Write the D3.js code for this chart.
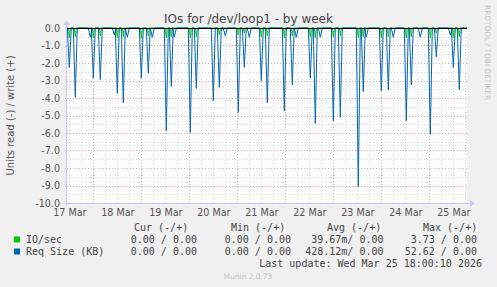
<!DOCTYPE html>
<html>
<head>
<meta charset="utf-8">
<script src="https://cdn.jsdelivr.net/npm/d3@7"></script>
<style>
  body { margin: 0; background: #f0f0f0; }
  svg { display: block; }
</style>
</head>
<body>
<div id="wrapper"></div>
<script>
// data (read side, plotted negative)
const spikeTimes = [
  '2026-03-17 12:00', '2026-03-17 15:00', '2026-03-17 22:30', '2026-03-18 00:00',
  '2026-03-18 03:30', '2026-03-18 10:30', '2026-03-18 12:00', '2026-03-18 15:00',
  '2026-03-18 17:00', '2026-03-19 00:00', '2026-03-19 03:30', '2026-03-19 05:30',
  '2026-03-19 12:30', '2026-03-19 15:00', '2026-03-19 16:30', '2026-03-20 00:30',
  '2026-03-20 03:30', '2026-03-20 12:00', '2026-03-20 15:00', '2026-03-20 18:00',
  '2026-03-21 00:30', '2026-03-21 03:30', '2026-03-21 06:00', '2026-03-21 12:00',
  '2026-03-21 15:00', '2026-03-21 23:30', '2026-03-22 03:30', '2026-03-22 05:30',
  '2026-03-22 12:30', '2026-03-22 15:00', '2026-03-22 17:30', '2026-03-23 00:00',
  '2026-03-23 03:30', '2026-03-23 12:30', '2026-03-23 15:00', '2026-03-23 16:30',
  '2026-03-24 00:00', '2026-03-24 03:30', '2026-03-24 06:00', '2026-03-24 12:30',
  '2026-03-24 15:00', '2026-03-24 19:30', '2026-03-25 00:30', '2026-03-25 03:30',
  '2026-03-25 10:30', '2026-03-25 12:00', '2026-03-25 15:00',
]
const reqSizeRead = [
  -2.25, -3.96, -0.53, -2.87, -2.95, -0.40, -3.73, -4.27, -0.53, -2.87, -2.59, -0.53,
  -5.87, -3.33, -0.53, -5.96, -3.45, -4.15, -3.39, -0.45, -4.82, -2.25, -0.53, -3.01,
  -4.27, -4.72, -3.24, -0.53, -2.87, -5.45, -0.53, -5.30, -5.10, -9.07, -3.64, -0.53,
  -3.58, -3.54, -0.53, -5.30, -3.24, -0.53, -6.08, -1.64, -0.40, -2.25, -3.52,
]
const ioSecRead = [
  -0.55, -0.50, 0, -0.55, -0.45, 0, -0.55, -0.50, 0, -0.60, -0.45, 0,
  -0.55, -0.50, 0, -0.55, -0.50, 0.0, -0.40, 0, -0.40, -0.30, 0, -0.50,
  -0.45, -0.55, -0.45, 0, -0.50, -0.55, 0, -0.50, -0.45, -0.55, -0.50, 0,
  -0.55, -0.50, 0, -0.55, -0.50, 0, -0.55, -0.30, 0, -0.55, -0.50,
]
const timeStart = '2026-03-17 10:51'
const timeEnd = '2026-03-25 18:51'

const yTicks = [0, -1, -2, -3, -4, -5, -6, -7, -8, -9, -10]

const legendNames = ['IO/sec', 'Req Size (KB)']
const legendColors = ['#00cc00', '#0066b3']
const curValues = ['0.00 / 0.00', '0.00 / 0.00']
const minValues = ['0.00 / 0.00', '0.00 / 0.00']
const avgValues = ['39.67m/ 0.00', '428.12m/ 0.00']
const maxValues = ['3.73 / 0.00', '52.62 / 0.00']
const lastUpdate = 'Last update: Wed Mar 25 18:00:10 2026'

// dimensions
const dimensions = {
  width: 497,
  height: 287,
  margin: { top: 28, right: 30, bottom: 84, left: 67 },
}
dimensions.boundedWidth = dimensions.width - dimensions.margin.left - dimensions.margin.right
dimensions.boundedHeight = dimensions.height - dimensions.margin.top - dimensions.margin.bottom

const parseTime = d3.utcParse('%Y-%m-%d %H:%M')
const minute = 60 * 1000

const wrapper = d3.select('#wrapper')
  .append('svg')
  .attr('width', dimensions.width)
  .attr('height', dimensions.height)
  .style('font-family', 'DejaVu Sans, sans-serif')

wrapper.append('rect')
  .attr('width', dimensions.width)
  .attr('height', dimensions.height)
  .attr('fill', '#f0f0f0')

const bounds = wrapper.append('g')
  .attr('transform', `translate(${dimensions.margin.left}, ${dimensions.margin.top})`)

// scales
const xScale = d3.scaleUtc()
  .domain([parseTime(timeStart), parseTime(timeEnd)])
  .range([0, dimensions.boundedWidth])

const yScale = d3.scaleLinear()
  .domain([-10, 0])
  .range([dimensions.boundedHeight, 0])

bounds.append('rect')
  .attr('width', dimensions.boundedWidth)
  .attr('height', dimensions.boundedHeight)
  .attr('fill', '#ffffff')

// grid
const grid = bounds.append('g').attr('shape-rendering', 'crispEdges')
const minorHours = d3.utcHour.every(6).range(...xScale.domain())
const majorDays = d3.utcDay.range(...xScale.domain())
const yMinor = d3.range(-9.5, 0, 1)

grid.selectAll('.vminor').data(minorHours).join('line')
  .attr('x1', d => Math.round(xScale(d)) + 0.5).attr('x2', d => Math.round(xScale(d)) + 0.5)
  .attr('y1', 0).attr('y2', dimensions.boundedHeight)
  .attr('stroke', '#d4d4d4').attr('stroke-dasharray', '1,2')
grid.selectAll('.hminor').data(yMinor).join('line')
  .attr('x1', 0).attr('x2', dimensions.boundedWidth)
  .attr('y1', d => Math.round(yScale(d)) + 0.5).attr('y2', d => Math.round(yScale(d)) + 0.5)
  .attr('stroke', '#d4d4d4').attr('stroke-dasharray', '1,2')
grid.selectAll('.vmajor').data(majorDays).join('line')
  .attr('x1', d => Math.round(xScale(d)) + 0.5).attr('x2', d => Math.round(xScale(d)) + 0.5)
  .attr('y1', 0).attr('y2', dimensions.boundedHeight)
  .attr('stroke', '#e8a8a8').attr('stroke-dasharray', '1,2')
grid.selectAll('.hmajor').data(yTicks.slice(1)).join('line')
  .attr('x1', 0).attr('x2', dimensions.boundedWidth)
  .attr('y1', d => Math.round(yScale(d)) + 0.5).attr('y2', d => Math.round(yScale(d)) + 0.5)
  .attr('stroke', '#e8a8a8').attr('stroke-dasharray', '1,2')

// series
const buildPoints = (values, halfWidth) => {
  const pts = [[xScale.domain()[0], 0]]
  spikeTimes.forEach((t, i) => {
    const time = parseTime(t)
    pts.push([new Date(+time - halfWidth), 0], [time, values[i]], [new Date(+time + halfWidth), 0])
  })
  pts.push([xScale.domain()[1], 0])
  return pts
}
const lineGenerator = d3.line()
  .x(d => xScale(d[0]))
  .y(d => yScale(d[1]))

bounds.append('path')
  .attr('d', lineGenerator(buildPoints(ioSecRead, 30 * minute)))
  .attr('fill', 'none').attr('stroke', legendColors[0]).attr('stroke-width', 1)
bounds.append('path')
  .attr('d', lineGenerator(buildPoints(reqSizeRead, 60 * minute)))
  .attr('fill', 'none').attr('stroke', legendColors[1]).attr('stroke-width', 1)

// zero rule
bounds.append('line')
  .attr('x1', 0).attr('x2', dimensions.boundedWidth)
  .attr('y1', yScale(0) + 0.5).attr('y2', yScale(0) + 0.5)
  .attr('stroke', '#000').attr('shape-rendering', 'crispEdges')

// axes
const axisColor = '#c8c8f0'
bounds.append('line')
  .attr('x1', -0.5).attr('x2', -0.5).attr('y1', -4).attr('y2', dimensions.boundedHeight + 2)
  .attr('stroke', axisColor).attr('shape-rendering', 'crispEdges')
bounds.append('line')
  .attr('x1', -2).attr('x2', dimensions.boundedWidth + 4)
  .attr('y1', dimensions.boundedHeight + 0.5).attr('y2', dimensions.boundedHeight + 0.5)
  .attr('stroke', axisColor).attr('shape-rendering', 'crispEdges')
bounds.append('path')
  .attr('d', `M${dimensions.boundedWidth + 3},${dimensions.boundedHeight - 3} l5,3.5 l-5,3.5 z`)
  .attr('fill', axisColor)
bounds.append('path')
  .attr('d', `M-4,-3 l3.5,-5 l3.5,5 z`)
  .attr('fill', axisColor)

const yAxisGenerator = d3.axisLeft(yScale)
  .tickValues(yTicks)
  .tickSize(2)
  .tickPadding(5)
  .tickFormat(d => d.toFixed(1))
const yAxis = bounds.append('g').call(yAxisGenerator)
yAxis.select('.domain').remove()
yAxis.selectAll('line').attr('stroke', axisColor)
yAxis.selectAll('text')
  .attr('font-family', 'DejaVu Sans, sans-serif')
  .attr('font-size', 9.6).attr('fill', '#555').attr('dy', '0.34em')

// day labels sit at noon
const labelTimes = d3.utcDay.range(d3.utcDay.floor(xScale.domain()[0]), xScale.domain()[1])
  .map(d => d3.utcHour.offset(d, 12))
  .filter(d => d >= xScale.domain()[0] && d <= xScale.domain()[1])
const xAxisGenerator = d3.axisBottom(xScale)
  .tickValues(labelTimes)
  .tickSize(0)
  .tickPadding(6)
  .tickFormat(d3.utcFormat('%d %b'))
const xAxis = bounds.append('g')
  .attr('transform', `translate(0, ${dimensions.boundedHeight})`)
  .call(xAxisGenerator)
xAxis.select('.domain').remove()
xAxis.selectAll('text')
  .attr('font-family', 'DejaVu Sans, sans-serif')
  .attr('font-size', 9.6).attr('fill', '#555')

// titles
wrapper.append('text')
  .attr('x', dimensions.width / 2).attr('y', 23)
  .attr('text-anchor', 'middle')
  .attr('font-size', 12).attr('fill', '#444')
  .text('IOs for /dev/loop1 - by week')

wrapper.append('text')
  .attr('transform', `translate(14, ${dimensions.margin.top + dimensions.boundedHeight / 2}) rotate(-90)`)
  .attr('text-anchor', 'middle')
  .attr('font-size', 10).attr('fill', '#555')
  .text('Units read (-) / write (+)')

wrapper.append('text')
  .attr('transform', 'translate(485, 5) rotate(90)')
  .attr('font-size', 7.4).attr('fill', '#c4c4c4')
  .text('RRDTOOL / TOBI OETIKER')

// legend
const legend = wrapper.append('g')
  .attr('font-family', 'DejaVu Sans Mono, monospace')
  .attr('font-size', 10).attr('fill', '#444')
  .attr('xml:space', 'preserve')

const headers = [['Cur (-/+)', 134], ['Min (-/+)', 231], ['Avg (-/+)', 327], ['Max (-/+)', 423]]
legend.selectAll('.hdr').data(headers).join('text')
  .attr('x', d => d[1]).attr('y', 231)
  .text(d => d[0])

const columnEnds = [197, 291, 383.5, 477]
legendNames.forEach((name, i) => {
  const y = 243 + i * 12
  legend.append('rect')
    .attr('x', 14).attr('y', y - 6.5).attr('width', 6).attr('height', 6)
    .attr('fill', legendColors[i])
  legend.append('text').attr('x', 26).attr('y', y).text(name)
  ;[curValues, minValues, avgValues, maxValues].forEach((col, j) => {
    legend.append('text')
      .attr('x', columnEnds[j]).attr('y', y)
      .attr('text-anchor', 'end')
      .text(col[i])
  })
})

legend.append('text')
  .attr('x', 482).attr('y', 267)
  .attr('text-anchor', 'end')
  .text(lastUpdate)

wrapper.append('text')
  .attr('x', 248).attr('y', 279)
  .attr('text-anchor', 'middle')
  .attr('font-size', 7.4).attr('fill', '#c4c4c4')
  .text('Munin 2.0.73')
</script>
</body>
</html>
